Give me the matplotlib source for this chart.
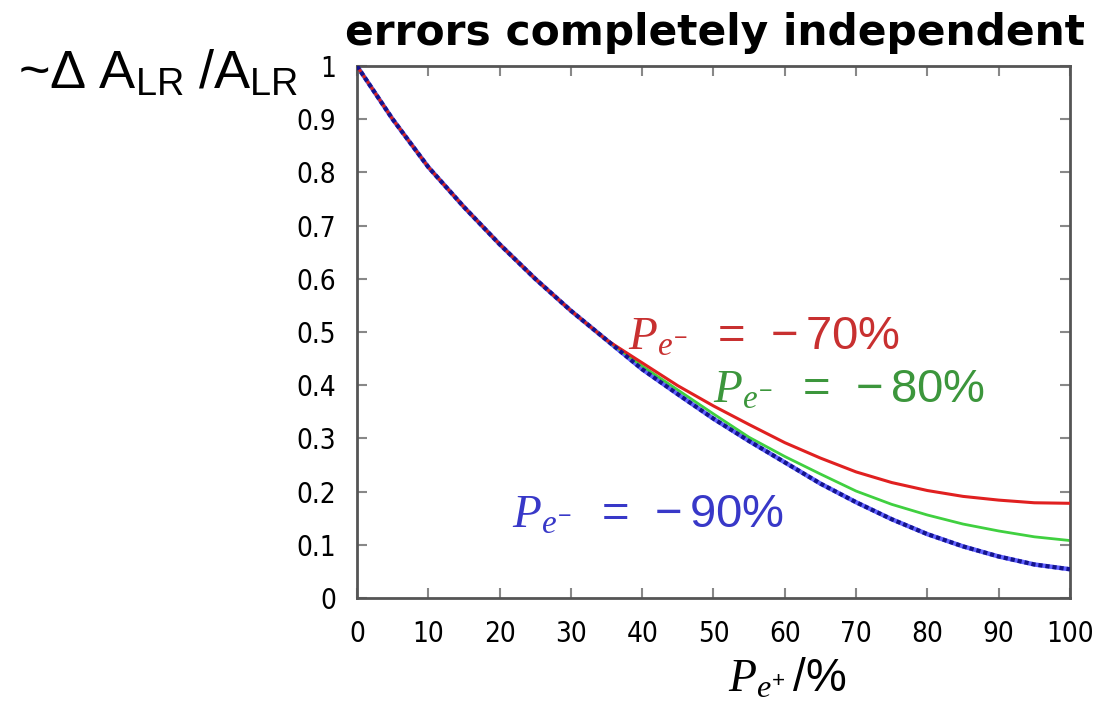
import matplotlib
matplotlib.use("Agg")
import matplotlib.pyplot as plt
from matplotlib import font_manager

plt.rcParams['mathtext.fontset'] = 'custom'
plt.rcParams['mathtext.rm'] = 'Liberation Sans'
plt.rcParams['mathtext.it'] = 'Liberation Serif:italic'
plt.rcParams['mathtext.sf'] = 'Liberation Sans'

# data
pe_plus = [0, 5, 10, 15, 20, 25, 30, 35, 40, 45, 50, 55, 60, 65, 70, 75, 80, 85, 90, 95, 100]
common = [1.0, 0.90, 0.81, 0.735, 0.665, 0.60, 0.54, 0.485]
red_tail = [0.442, 0.399, 0.361, 0.326, 0.292, 0.263, 0.237, 0.217, 0.202, 0.191, 0.184, 0.179, 0.178]
green_tail = [0.436, 0.391, 0.346, 0.302, 0.266, 0.233, 0.201, 0.176, 0.156, 0.139, 0.126, 0.115, 0.108]
blue_tail = [0.43, 0.383, 0.337, 0.295, 0.255, 0.215, 0.18, 0.148, 0.12, 0.097, 0.078, 0.063, 0.054]
red = common + red_tail
green = common + green_tail
blue = common + blue_tail
labels = [r'$P_{e^{-}}\ \ =\ -70\%$', r'$P_{e^{-}}\ \ =\ -80\%$', r'$P_{e^{-}}\ \ =\ -90\%$']
xticks = list(range(0, 101, 10))
yticks = [0, 0.1, 0.2, 0.3, 0.4, 0.5, 0.6, 0.7, 0.8, 0.9, 1]
yticklabels = ['0', '0.1', '0.2', '0.3', '0.4', '0.5', '0.6', '0.7', '0.8', '0.9', '1']

fig = plt.figure(figsize=(11.13, 7.18), dpi=100)
ax = fig.add_axes([357/1113, 120/718, (1070-357)/1113, (598-66)/718])

ax.plot(pe_plus, red, color='#e02020', lw=2.2, zorder=3)
ax.plot(pe_plus, green, color='#40d040', lw=2.0, zorder=2)
ax.plot(pe_plus, blue, color='#6060ff', lw=3.2, zorder=1)
ax.plot(pe_plus, blue, color='#14148c', lw=3.0, ls=(0, (1.0, 0.7)), zorder=4)

ax.set_xlim(0, 100)
ax.set_ylim(0, 1)
ax.set_xticks(xticks)
ax.set_yticks(yticks)
ax.set_yticklabels(yticklabels)

condensed = None
for f in font_manager.fontManager.ttflist:
    if f.name == 'DejaVu Sans' and f.stretch == 'condensed' and f.weight in (400, 'normal') and f.style == 'normal':
        condensed = f.fname
        break
if condensed:
    tp = font_manager.FontProperties(fname=condensed, size=20)
else:
    tp = font_manager.FontProperties(family='DejaVu Sans', size=18)
for lab in ax.get_xticklabels() + ax.get_yticklabels():
    lab.set_fontproperties(tp)
ax.tick_params(direction='in', length=7, width=1.5, color='#888888',
               top=True, right=True, labelcolor='black')
ax.tick_params(axis='x', pad=16)
ax.tick_params(axis='y', pad=15)
for sp in ax.spines.values():
    sp.set_color('#555555')
    sp.set_linewidth(2)

ax.text(38, 0.49, labels[0], color='#c83030', fontsize=34, ha='left', va='center')
ax.text(50, 0.39, labels[1], color='#3c963c', fontsize=34, ha='left', va='center')
ax.text(21.8, 0.155, labels[2], color='#3838c8', fontsize=34, ha='left', va='center')

fig.text(715/1113, 1 - 33/718, 'errors completely independent', fontsize=30.5,
         fontweight='bold', family='DejaVu Sans', ha='center', va='center')
fig.text(18/1113, 1 - 74/718, r'~$\Delta\ \mathrm{A}_{\mathrm{LR}}\ /\mathrm{A}_{\mathrm{LR}}$',
         fontsize=39, family='Liberation Sans', ha='left', va='center')
fig.text(787/1113, 1 - 679/718, r'$P_{e^{+}}\,/\%$', fontsize=33, ha='center', va='center')

fig.savefig('out.png', dpi=100)
